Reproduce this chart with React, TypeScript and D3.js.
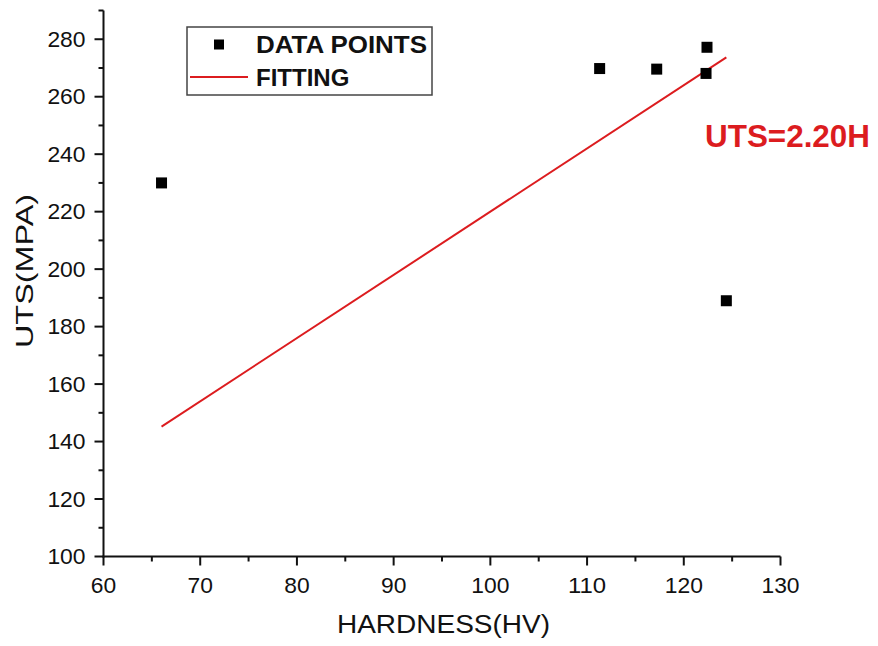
import React from 'react';
import * as d3 from 'd3';

// values
const hardness = [66, 111.3, 117.2, 122.4, 122.3, 124.4];
const uts = [230, 269.8, 269.6, 277.2, 268.1, 189.0];
const fitSlope = 2.2;
const fitRange = [66, 124.4];
const xTicks = [60, 70, 80, 90, 100, 110, 120, 130];
const yTicks = [100, 120, 140, 160, 180, 200, 220, 240, 260, 280];

const RED = '#dc1c1f';

export default function App() {
    const width = 878;
    const height = 646;

    const xScale = d3.scaleLinear().domain([60, 130]).range([103.5, 780.5]);
    const yScale = d3.scaleLinear().domain([100, 290]).range([556.5, 10.5]);

    const xMinor = d3.range(65, 130, 10);
    const yMinor = d3.range(110, 300, 20);

    const points = hardness.map((h, i) => ({ h, u: uts[i] }));

    const fitLine = d3.line<number>()
        .x(d => xScale(d))
        .y(d => yScale(fitSlope * d));

    const x0 = xScale.range()[0];
    const y0 = yScale.range()[0];
    const font = 'Arial, "Liberation Sans", sans-serif';
    // tick labels in the picture are a little wider than plain Arial
    const tickLen = (t: number) => String(t).length * 12.7;

    return (
        <svg
            width={width}
            height={height}
            style={{ position: 'absolute', left: 0, top: 0, background: '#fff' }}
            fontFamily={font}
        >
            {/* Y axis */}
            <line x1={x0} y1={yScale(290)} x2={x0} y2={y0 + 1} stroke="#111" strokeWidth="2" />
            {yTicks.map(t => (
                <g key={t}>
                    <line x1={x0 - 9} y1={yScale(t)} x2={x0} y2={yScale(t)} stroke="#111" strokeWidth="2" />
                    <text
                        x={x0 - 18}
                        y={yScale(t)}
                        dy="0.36em"
                        textAnchor="end"
                        fontSize="21.5"
                        fill="#111"
                        textLength={tickLen(t)}
                        lengthAdjust="spacingAndGlyphs"
                    >
                        {t}
                    </text>
                </g>
            ))}
            {yMinor.map(t => (
                <line key={t} x1={x0 - 5} y1={yScale(t)} x2={x0} y2={yScale(t)} stroke="#111" strokeWidth="2" />
            ))}

            {/* X axis */}
            <line x1={x0 - 1} y1={y0} x2={xScale(130)} y2={y0} stroke="#111" strokeWidth="2" />
            {xTicks.map(t => (
                <g key={t}>
                    <line x1={xScale(t)} y1={y0} x2={xScale(t)} y2={y0 + 9} stroke="#111" strokeWidth="2" />
                    <text
                        x={xScale(t)}
                        y={592.5}
                        textAnchor="middle"
                        fontSize="21.5"
                        fill="#111"
                        textLength={tickLen(t)}
                        lengthAdjust="spacingAndGlyphs"
                    >
                        {t}
                    </text>
                </g>
            ))}
            {xMinor.map(t => (
                <line key={t} x1={xScale(t)} y1={y0} x2={xScale(t)} y2={y0 + 5} stroke="#111" strokeWidth="2" />
            ))}

            {/* Axis titles */}
            <text
                x={443.5}
                y={633}
                textAnchor="middle"
                fontSize="25"
                fill="#111"
                textLength="213"
                lengthAdjust="spacingAndGlyphs"
            >
                HARDNESS(HV)
            </text>
            <text
                transform="translate(33, 271) rotate(-90)"
                textAnchor="middle"
                fontSize="24"
                fill="#111"
                textLength="154"
                lengthAdjust="spacingAndGlyphs"
            >
                UTS(MPA)
            </text>

            {/* Fitting line */}
            <path d={fitLine(fitRange) || ''} fill="none" stroke={RED} strokeWidth="2" />

            {/* Data points */}
            {points.map((p, i) => (
                <rect
                    key={i}
                    x={xScale(p.h) - 5.5}
                    y={yScale(p.u) - 5.5}
                    width={11}
                    height={11}
                    fill="#000"
                />
            ))}

            {/* Equation */}
            <text
                x={705}
                y={147}
                fontSize="32"
                fontWeight="bold"
                fill={RED}
                textLength="165"
                lengthAdjust="spacingAndGlyphs"
            >
                UTS=2.20H
            </text>

            {/* Legend */}
            <g>
                <rect x={187} y={27} width={245} height={68} fill="#fff" stroke="#444" strokeWidth="1.5" />
                <rect x={214} y={39.5} width={10} height={10} fill="#000" />
                <text x={256} y={53} fontSize="24" fontWeight="bold" fill="#111" textLength="171" lengthAdjust="spacingAndGlyphs">
                    DATA POINTS
                </text>
                <line x1={190} y1={77} x2={248} y2={77} stroke={RED} strokeWidth="2" />
                <text x={256} y={86} fontSize="24" fontWeight="bold" fill="#111">
                    FITTING
                </text>
            </g>
        </svg>
    );
}
